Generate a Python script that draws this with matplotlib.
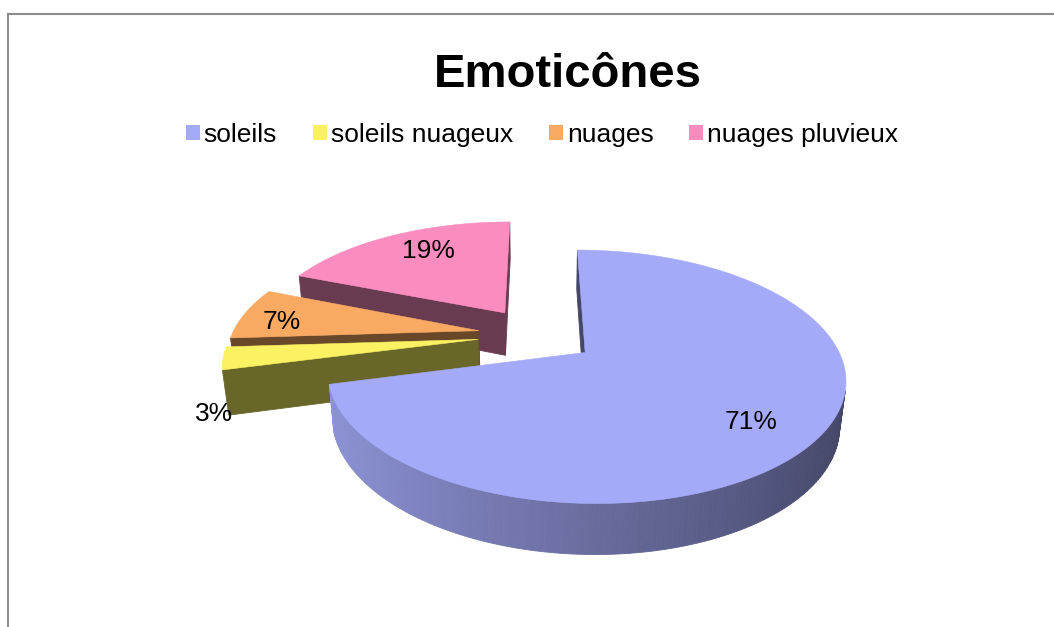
import numpy as np
import matplotlib
matplotlib.use('Agg')
import matplotlib.pyplot as plt
from matplotlib.patches import Polygon, Patch
from matplotlib.lines import Line2D

# ---- data ----
categories = ['soleils', 'soleils nuageux', 'nuages', 'nuages pluvieux']
values = [71, 3, 7, 19]
pct_labels = ['71%', '3%', '7%', '19%']
colors = ['#A4AAF8', '#FAF262', '#F9AA62', '#FB8CBF']
title = 'Emoticônes'

# ---- layout / style ----
W, H = 1054, 627
phi = np.radians(27.5)      # elevation
D = 4.75                    # camera distance (radius units)
Rx, Ry = 247, 250           # pixel scale
cx0, cy0 = 537, 335         # projected pie centre
explode = 0.24
depth = 0.20
lab_r = [0.766, 1.084, 0.82, 0.743]
lab_dt = [4.0, -22.8, -3.7, 4.0]

plt.rcParams['font.family'] = ['Liberation Sans', 'DejaVu Sans']

fig = plt.figure(figsize=(W / 100, H / 100), dpi=100)
ax = fig.add_axes([0, 0, 1, 1])
ax.set_xlim(0, W)
ax.set_ylim(H, 0)
ax.axis('off')

cam = np.array([0.0, -D * np.cos(phi), D * np.sin(phi)])


def proj(p):
    x, y, z = p
    d = y * np.cos(phi) - z * np.sin(phi)
    Y = y * np.sin(phi) + z * np.cos(phi)
    s = D / (D + d)
    return (cx0 + Rx * x * s, cy0 - Ry * Y * s)


def depth_of(p):
    return p[1] * np.cos(phi) - p[2] * np.sin(phi)


def shade(c, f):
    rgb = np.array(matplotlib.colors.to_rgb(c))
    return tuple(np.clip(rgb * f, 0, 1))


total = float(sum(values))
fr = np.array(values) / total
starts = np.concatenate([[0], np.cumsum(fr)[:-1]]) * 2 * np.pi
ends = np.cumsum(fr) * 2 * np.pi

slices = []
for i in range(len(values)):
    t0, t1 = starts[i], ends[i]
    tm = 0.5 * (t0 + t1)
    ox, oy = explode * np.sin(tm), explode * np.cos(tm)
    slices.append((i, t0, t1, tm, ox, oy))

# far slices first
order = sorted(slices, key=lambda s: -s[5])

for (i, t0, t1, tm, ox, oy) in order:
    col = colors[i]
    n = max(4, int((t1 - t0) / (2 * np.pi) * 360))
    ts = np.linspace(t0, t1, n + 1)

    def rim(t, z):
        return np.array([ox + np.sin(t), oy + np.cos(t), z])

    vtop = np.array([ox, oy, 0.0])
    vbot = np.array([ox, oy, -depth])
    faces = []
    # curved side
    for a, b in zip(ts[:-1], ts[1:]):
        m = 0.5 * (a + b)
        nrm = np.array([np.sin(m), np.cos(m), 0.0])
        p = rim(m, -depth / 2)
        if np.dot(nrm, cam - p) > 0:
            quad = [rim(a, 0), rim(b, 0), rim(b, -depth), rim(a, -depth)]
            f = 0.635 - 0.235 * np.sin(m)
            faces.append((depth_of(p), quad, shade(col, f)))
    # radial faces
    for t, nrm in ((t0, np.array([-np.cos(t0), np.sin(t0), 0.0])),
                   (t1, np.array([np.cos(t1), -np.sin(t1), 0.0]))):
        p = 0.5 * (vtop + rim(t, 0)) + np.array([0, 0, -depth / 2])
        if np.dot(nrm, cam - p) > 0:
            quad = [vtop, rim(t, 0), rim(t, -depth), vbot]
            faces.append((depth_of(p), quad, shade(col, 0.42)))
    faces.sort(key=lambda f: -f[0])
    for _, quad, c in faces:
        ax.add_patch(Polygon([proj(q) for q in quad], closed=True,
                             facecolor=c, edgecolor=c, linewidth=0.6))
    top = [vtop] + [rim(t, 0) for t in ts]
    ax.add_patch(Polygon([proj(q) for q in top], closed=True,
                         facecolor=col, edgecolor=col, linewidth=0.4))

# percentage labels
for (i, t0, t1, tm, ox, oy) in slices:
    ta = tm + np.radians(lab_dt[i])
    p = np.array([ox + lab_r[i] * np.sin(ta), oy + lab_r[i] * np.cos(ta), 0.0])
    px, py = proj(p)
    ax.text(px, py, pct_labels[i], ha='center', va='center', fontsize=19,
            color='black')

# title
fig.text(568 / W, 1 - 75 / H, title, ha='center', va='center',
         fontsize=34, fontweight='bold')

# legend
handles = [Patch(facecolor=c, edgecolor='none') for c in colors]
fig.legend(handles, categories, loc='center', ncol=4, frameon=False,
           bbox_to_anchor=(542 / W, 1 - 135 / H), fontsize=19,
           handlelength=0.53, handleheight=0.53, handletextpad=0.15,
           columnspacing=1.36, borderpad=0, borderaxespad=0)

# chart frame
fig.add_artist(Line2D([8 / W, 1.0], [1 - 14 / H, 1 - 14 / H],
                      color='#8C8C8C', linewidth=1.5))
fig.add_artist(Line2D([8 / W, 8 / W], [0, 1 - 14 / H],
                      color='#8C8C8C', linewidth=1.5))

fig.savefig('out.png', dpi=100)
